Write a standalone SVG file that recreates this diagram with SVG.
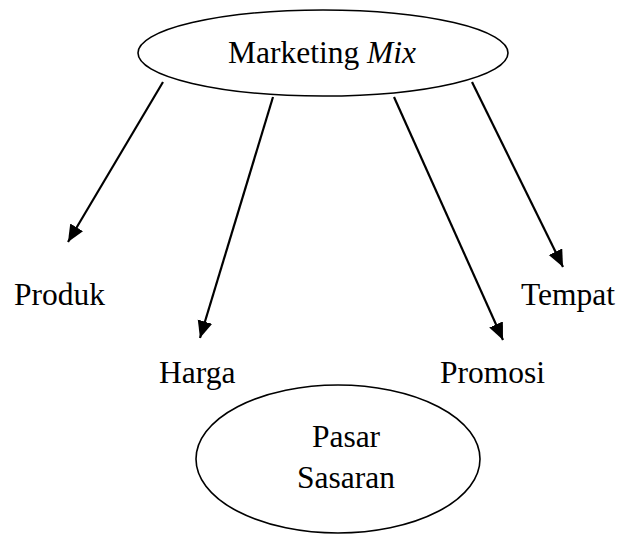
<svg xmlns="http://www.w3.org/2000/svg" width="622" height="536" viewBox="0 0 622 536">
<style>
.t{font-family:"Liberation Serif","Times New Roman",serif;font-size:31.5px;fill:#000}
.e{fill:none;stroke:#000;stroke-width:1.6}
.c{stroke:#000;stroke-width:2.2;fill:none}
</style>
<defs>
<marker id="ah" markerUnits="userSpaceOnUse" markerWidth="18" markerHeight="16" refX="17" refY="7.5" orient="auto">
<path d="M0,0 L17,7.5 L0,15 z" fill="#000"/>
</marker>
</defs>
<rect width="622" height="536" fill="#fff"/>
<g id="marketing-mix">
<ellipse class="e" cx="323" cy="53" rx="185" ry="43"/>
<text class="t" x="322" y="63" text-anchor="middle">Marketing <tspan font-style="italic">Mix</tspan></text>
</g>
<g id="connectors">
<line class="c" x1="163" y1="82" x2="68" y2="242" marker-end="url(#ah)"/>
<line class="c" x1="273" y1="97" x2="200" y2="338" marker-end="url(#ah)"/>
<line class="c" x1="394" y1="97" x2="503" y2="340" marker-end="url(#ah)"/>
<line class="c" x1="472" y1="82" x2="563" y2="267" marker-end="url(#ah)"/>
</g>
<g id="produk"><text class="t" x="14" y="305">Produk</text></g>
<g id="tempat"><text class="t" x="521" y="305">Tempat</text></g>
<g id="harga"><text class="t" x="159" y="383">Harga</text></g>
<g id="promosi"><text class="t" x="440" y="383">Promosi</text></g>
<g id="pasar-sasaran">
<ellipse class="e" cx="338" cy="459" rx="142" ry="74"/>
<text class="t" x="346" y="447" text-anchor="middle">Pasar</text>
<text class="t" x="346" y="488" text-anchor="middle">Sasaran</text>
</g>
</svg>
